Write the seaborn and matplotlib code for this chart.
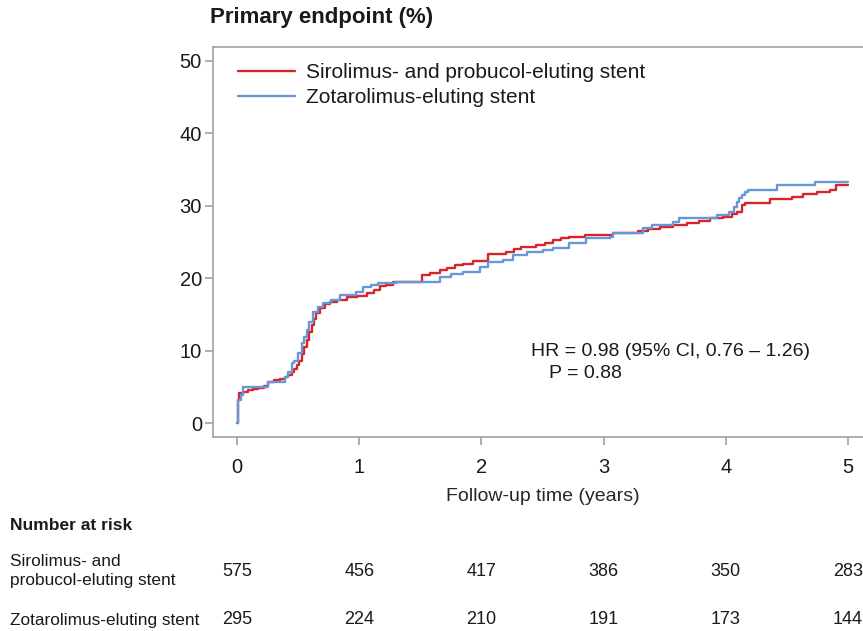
import matplotlib
matplotlib.use("Agg")
import matplotlib.pyplot as plt
import matplotlib.transforms as mtransforms
import seaborn as sns
import pandas as pd

# Cumulative incidence of the primary endpoint (%), step points by follow-up year
spes_time = [0, 0.005, 0.02, 0.05, 0.09, 0.13, 0.17, 0.22, 0.25, 0.3, 0.35, 0.39, 0.42,
             0.45, 0.47, 0.49, 0.51, 0.53, 0.55, 0.57, 0.59, 0.61, 0.63, 0.65, 0.68,
             0.72, 0.76, 0.82, 0.9, 0.98, 1.06, 1.12, 1.17, 1.22, 1.28, 1.4, 1.51,
             1.58, 1.66, 1.72, 1.78, 1.85, 1.93, 2.05, 2.2, 2.27, 2.32, 2.45, 2.52,
             2.59, 2.65, 2.72, 2.85, 2.95, 3.08, 3.28, 3.36, 3.46, 3.57, 3.68, 3.78,
             3.87, 3.98, 4.05, 4.09, 4.13, 4.16, 4.36, 4.54, 4.63, 4.75, 4.85, 4.9, 5.0]
spes_rate = [0, 3.2, 4.1, 4.3, 4.5, 4.7, 4.9, 5.1, 5.7, 5.9, 6.1, 6.4, 6.6,
             7.0, 7.5, 8.0, 8.6, 9.5, 10.5, 11.5, 12.6, 13.5, 14.4, 15.2, 15.9,
             16.4, 16.7, 17.0, 17.4, 17.6, 17.9, 18.3, 18.9, 19.1, 19.4, 19.5, 20.4,
             20.7, 21.1, 21.4, 21.8, 22.0, 22.3, 23.3, 23.6, 24.0, 24.3, 24.6, 24.9,
             25.3, 25.5, 25.7, 25.9, 26.0, 26.2, 26.5, 26.8, 27.1, 27.3, 27.6, 27.9,
             28.3, 28.5, 28.8, 29.1, 30.1, 30.4, 30.9, 31.2, 31.6, 31.9, 32.2, 32.9, 32.9]

zes_time = [0, 0.005, 0.03, 0.05, 0.25, 0.39, 0.42, 0.45, 0.47, 0.5, 0.53, 0.55, 0.57,
            0.59, 0.62, 0.66, 0.7, 0.77, 0.84, 0.97, 1.03, 1.1, 1.15, 1.3, 1.5, 1.66,
            1.75, 1.85, 1.99, 2.05, 2.18, 2.26, 2.37, 2.5, 2.59, 2.72, 2.86, 3.05,
            3.08, 3.32, 3.4, 3.57, 3.62, 3.93, 4.03, 4.07, 4.09, 4.11, 4.13, 4.16,
            4.18, 4.42, 4.73, 5.0]
zes_rate = [0, 3.2, 3.9, 5.0, 5.7, 6.4, 7.0, 8.3, 8.6, 9.7, 11.0, 11.9, 12.8,
            14.0, 15.3, 16.0, 16.6, 17.0, 17.7, 18.1, 18.8, 19.0, 19.3, 19.5, 19.5, 20.2,
            20.5, 20.9, 21.5, 22.2, 22.5, 23.2, 23.6, 23.9, 24.2, 24.9, 25.5, 25.7,
            26.2, 26.9, 27.3, 27.8, 28.3, 28.7, 29.1, 29.8, 30.5, 31.0, 31.5, 31.9,
            32.2, 32.9, 33.3, 33.3]

groups = ["Sirolimus- and probucol-eluting stent", "Zotarolimus-eluting stent"]
risk_label_rows = ["Sirolimus- and\nprobucol-eluting stent", "Zotarolimus-eluting stent"]
risk_years = [0, 1, 2, 3, 4, 5]
risk_spes = [575, 456, 417, 386, 350, 283]
risk_zes = [295, 224, 210, 191, 173, 144]
y_ticks = [0, 10, 20, 30, 40, 50]

RED = "#d7262b"
BLUE = "#6797d6"
SPINE = "#9a9a9a"
W, H = 863, 631

sns.set_theme(style="ticks")
plt.rcParams["font.family"] = ["Liberation Sans", "DejaVu Sans"]
plt.rcParams["text.color"] = "#1a1a1a"

df = pd.concat([
    pd.DataFrame({"time": spes_time, "rate": spes_rate, "group": groups[0]}),
    pd.DataFrame({"time": zes_time, "rate": zes_rate, "group": groups[1]}),
], ignore_index=True)

fig = plt.figure(figsize=(W / 100, H / 100), dpi=100)
# plotting box runs past the right edge so only its top, left and bottom show
ax_left, ax_right, ax_top, ax_bottom = 213, 872, 47, 437
ax = fig.add_axes([ax_left / W, 1 - ax_bottom / H,
                   (ax_right - ax_left) / W, (ax_bottom - ax_top) / H])

sns.lineplot(data=df, x="time", y="rate", hue="group", hue_order=groups,
             palette=[RED, BLUE], estimator=None, sort=False,
             drawstyle="steps-post", linewidth=1.7, ax=ax)

px_per_year = (848 - 237) / 5
ax.set_xlim((ax_left - 237) / px_per_year, (ax_right - 237) / px_per_year)
ax.set_ylim(-1.93, 51.9)
ax.set_xticks(risk_years)
ax.set_yticks(y_ticks)
ax.tick_params(axis="both", direction="out", length=6, width=1.1, color=SPINE,
               labelsize=14.5, labelcolor="#1a1a1a")
ax.tick_params(axis="x", pad=9)
ax.tick_params(axis="y", pad=2)
for side in ["left", "top", "right", "bottom"]:
    ax.spines[side].set_visible(True)
    ax.spines[side].set_color(SPINE)
    ax.spines[side].set_linewidth(1.1)
ax.set_xlabel("Follow-up time (years)", fontsize=14, labelpad=8)
ax.set_ylabel("")

leg = ax.legend(loc="upper left",
                bbox_to_anchor=((238 - ax_left) / (ax_right - ax_left),
                                (ax_bottom - 63) / (ax_bottom - ax_top)),
                frameon=False, fontsize=15, handlelength=2.75, handletextpad=0.5,
                labelspacing=0.3, borderaxespad=0, borderpad=0)
for line in leg.get_lines():
    line.set_linewidth(1.7)

fig.text(531 / W, 1 - 351 / H, "HR = 0.98 (95% CI, 0.76 \u2013 1.26)",
         fontsize=14, va="center", ha="left")
fig.text(549 / W, 1 - 374 / H, "P = 0.88", fontsize=14, va="center", ha="left")

fig.text(210 / W, 1 - 18 / H, "Primary endpoint (%)", fontsize=16,
         fontweight="bold", va="center", ha="left")

# Number-at-risk table aligned with the x axis
fig.text(10 / W, 1 - 525 / H, "Number at risk", fontsize=12.5,
         fontweight="bold", va="center", ha="left")
fig.text(10 / W, 1 - 571 / H, risk_label_rows[0], fontsize=12.4,
         va="center", ha="left", linespacing=1.35)
fig.text(10 / W, 1 - 620 / H, risk_label_rows[1], fontsize=12.4,
         va="center", ha="left")
blend = mtransforms.blended_transform_factory(ax.transData, fig.transFigure)
for yr, n1, n2 in zip(risk_years, risk_spes, risk_zes):
    fig.text(yr, 1 - 572 / H, str(n1), transform=blend, fontsize=13,
             va="center", ha="center")
    fig.text(yr, 1 - 620 / H, str(n2), transform=blend, fontsize=13,
             va="center", ha="center")

fig.savefig("out.png", dpi=100)
